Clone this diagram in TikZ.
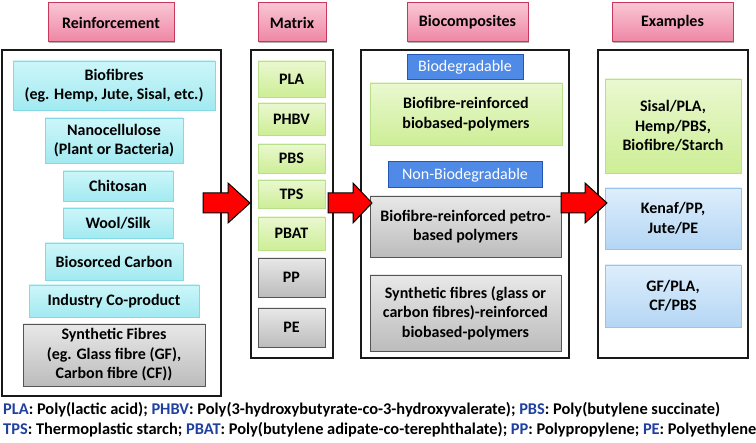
\documentclass[tikz,border=0pt]{standalone}
\usepackage{fontspec}
\setmainfont{Carlito}
\usetikzlibrary{shadows}
\definecolor{headtop}{HTML}{F9C6D4}
\definecolor{headbot}{HTML}{EE86A4}
\definecolor{headline}{HTML}{C8385C}
\definecolor{cyantop}{HTML}{CCF6F9}
\definecolor{cyanbot}{HTML}{A2EAF1}
\definecolor{cyanline}{HTML}{84DAE4}
\definecolor{greentop}{HTML}{EAF8D0}
\definecolor{greenbot}{HTML}{CDEE96}
\definecolor{greenline}{HTML}{B8E088}
\definecolor{graytop}{HTML}{E8E8E8}
\definecolor{graybot}{HTML}{BCBCBC}
\definecolor{grayline}{HTML}{555555}
\definecolor{bluefill}{HTML}{4E8AE6}
\definecolor{blueline}{HTML}{2456B8}
\definecolor{lbluetop}{HTML}{DDEEFC}
\definecolor{lbluebot}{HTML}{B4D6F4}
\definecolor{lblueline}{HTML}{98C4EC}
\definecolor{abbrblue}{HTML}{2040A0}
\begin{document}
\begin{tikzpicture}[x=1pt,y=-1pt]
    % Define styles
    \tikzset{
        box/.style={draw, rectangle, align=center, inner sep=1pt,
            font=\fontsize{16}{19.5}\selectfont\bfseries,
            drop shadow={shadow xshift=1pt, shadow yshift=-1.5pt, opacity=.3, fill=black}},
        headbox/.style={box, draw=headline, line width=1pt, top color=headtop, bottom color=headbot},
        cyanbox/.style={box, draw=cyanline, top color=cyantop, bottom color=cyanbot},
        greenbox/.style={box, draw=greenline, top color=greentop, bottom color=greenbot},
        graybox/.style={box, draw=grayline, top color=graytop, bottom color=graybot},
        lbluebox/.style={box, draw=lblueline, top color=lbluetop, bottom color=lbluebot},
        tagbox/.style={draw=blueline, line width=1pt, fill=bluefill, text=white, inner sep=1pt,
            font=\fontsize{16}{19.5}\selectfont},
        frame/.style={draw=black!90, line width=1.5pt, inner sep=0pt},
        bigarrow/.style={draw=black, line width=1pt, fill=red, line join=miter}
    }
    \useasboundingbox (0,0) rectangle (756,443);
    % Column headers
    \node[headbox, minimum width=126, minimum height=39] (hreinf) at (111,22.5) {Reinforcement};
    \node[headbox, minimum width=68, minimum height=39] (hmatrix) at (292,22.5) {Matrix};
    \node[headbox, minimum width=121, minimum height=39] (hbiocomp) at (467.5,22.5) {Biocomposites};
    \node[headbox, minimum width=121, minimum height=39] (hexamples) at (672.5,22.5) {Examples};
    % Column frames
    \node[frame, minimum width=219, minimum height=346] (creinf) at (111.5,223) {};
    \node[frame, minimum width=82, minimum height=308] (cmatrix) at (292,204) {};
    \node[frame, minimum width=208, minimum height=308] (cbiocomp) at (465,204) {};
    \node[frame, minimum width=150, minimum height=308] (cexamples) at (673,204) {};
    % Reinforcement
    \node[cyanbox, minimum width=202, minimum height=49] (biofibre) at (114,85.5) {Biofibres\\(eg. Hemp, Jute, Sisal, etc.)};
    \node[cyanbox, minimum width=138, minimum height=45] (nanocell) at (114,140.5) {Nanocellulose\\(Plant or Bacteria)};
    \node[cyanbox, minimum width=110, minimum height=30] (chitosan) at (118,186) {Chitosan};
    \node[cyanbox, minimum width=110, minimum height=30] (wool) at (118,223) {Wool/Silk};
    \node[cyanbox, minimum width=138, minimum height=37] (carbon) at (114,261.5) {Biosorced Carbon};
    \node[cyanbox, minimum width=170, minimum height=32] (coprod) at (114,301) {Industry Co-product};
    \node[graybox, minimum width=182, minimum height=62] (synth) at (114,355) {Synthetic Fibres\\(eg. Glass fibre (GF),\\Carbon fibre (CF))};
    % Matrix
    \node[greenbox, minimum width=67, minimum height=36] (pla) at (291.5,79) {PLA};
    \node[greenbox, minimum width=67, minimum height=32] (phbv) at (291.5,119) {PHBV};
    \node[greenbox, minimum width=67, minimum height=29] (pbs) at (291.5,158.5) {PBS};
    \node[greenbox, minimum width=67, minimum height=28] (tps) at (291.5,194) {TPS};
    \node[greenbox, minimum width=67, minimum height=33] (pbat) at (291.5,233.5) {PBAT};
    \node[graybox, minimum width=67, minimum height=39] (pp) at (291.5,277.5) {PP};
    \node[graybox, minimum width=67, minimum height=39] (pe) at (291.5,327.5) {PE};
    % Biocomposites
    \node[tagbox, minimum width=116, minimum height=25] (tagbio) at (465,67.5) {Biodegradable};
    \node[greenbox, minimum width=192, minimum height=62] (biobased) at (466,114) {Biofibre-reinforced\\biobased-polymers};
    \node[tagbox, minimum width=154, minimum height=26] (tagnon) at (465,175) {Non-Biodegradable};
    \node[graybox, minimum width=191, minimum height=61] (petro) at (465.5,226.5) {Biofibre-reinforced petro-\\based polymers};
    \node[graybox, minimum width=191, minimum height=76] (synbio) at (465.5,313) {Synthetic fibres (glass or\\carbon fibres)-reinforced\\biobased-polymers};
    % Examples
    \node[greenbox, minimum width=136, minimum height=94] (exbio) at (673,126) {Sisal/PLA,\\Hemp/PBS,\\Biofibre/Starch};
    \node[lbluebox, minimum width=136, minimum height=61] (expetro) at (673,218.5) {Kenaf/PP,\\Jute/PE};
    \node[lbluebox, minimum width=136, minimum height=62] (exsynth) at (673,296) {GF/PLA,\\CF/PBS};
    % Red block arrows between columns
    \foreach \t/\b/\p in {203/228/250, 328/353/372, 561/585/607}
        \draw[bigarrow] (\t,193) -- (\b,193) -- (\b,183) -- (\p,203) -- (\b,223) -- (\b,213) -- (\t,213) -- cycle;
    % Abbreviations
    \node[anchor=west, align=left, inner sep=0pt, font=\fontsize{16.4}{20}\selectfont\bfseries] (legend) at (3,420)
        {\textcolor{abbrblue}{PLA}: Poly(lactic acid); \textcolor{abbrblue}{PHBV}: Poly(3-hydroxybutyrate-co-3-hydroxyvalerate); \textcolor{abbrblue}{PBS}: Poly(butylene succinate)\\
         \textcolor{abbrblue}{TPS}: Thermoplastic starch; \textcolor{abbrblue}{PBAT}: Poly(butylene adipate-co-terephthalate); \textcolor{abbrblue}{PP}: Polypropylene; \textcolor{abbrblue}{PE}: Polyethylene};
\end{tikzpicture}
\end{document}
